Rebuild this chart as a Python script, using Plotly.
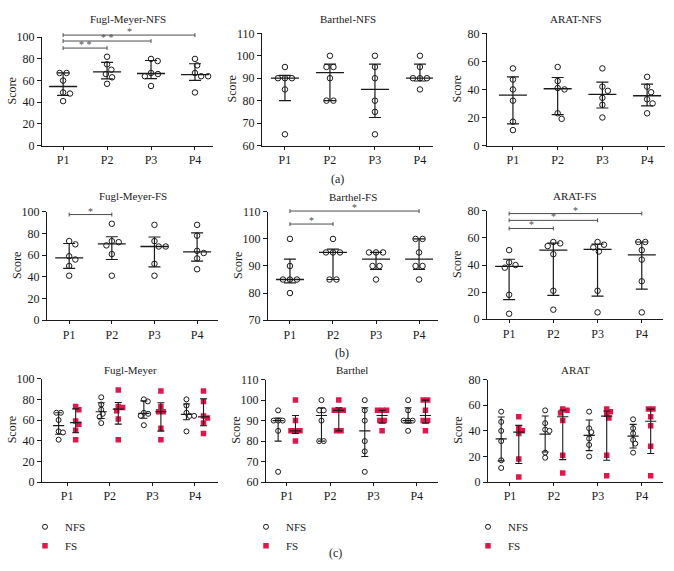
import numpy as np
import plotly.graph_objects as go

W, H = 674, 571
FONT = "Liberation Serif"
INK = "#1a1a1a"
BRK = "#4d4d4d"
RED = "#e0174b"

groups = ["P1", "P2", "P3", "P4"]

# scores of the 6 subjects per phase
fm_nfs = [[67, 67, 60, 49, 48, 41], [82, 75, 70, 66, 63, 57],
          [80, 78, 67, 66, 64, 55], [80, 74, 67, 64, 64, 49]]
ba_nfs = [[95, 90, 90, 90, 85, 65], [100, 95, 95, 90, 80, 80],
          [100, 95, 90, 80, 75, 65], [100, 95, 90, 90, 90, 85]]
ar_nfs = [[55, 47, 40, 32, 17, 11], [56, 46, 41, 40, 23, 19],
          [55, 42, 39, 34, 29, 20], [49, 42, 38, 33, 30, 23]]
fm_fs = [[73, 70, 59, 56, 50, 41], [89, 73, 72, 69, 61, 41],
         [88, 73, 68, 68, 52, 41], [88, 78, 64, 62, 57, 47]]
ba_fs = [[100, 90, 85, 85, 85, 80], [100, 95, 95, 95, 85, 85],
         [95, 95, 95, 90, 90, 85], [100, 100, 95, 90, 90, 85]]
ar_fs = [[51, 42, 40, 38, 18, 4], [57, 56, 54, 48, 21, 7],
         [57, 55, 53, 50, 21, 5], [57, 57, 51, 44, 28, 5]]

# significance brackets: (from group, to group, level, label)
sig_fm_nfs = [(0, 3, 102, "*"), (0, 2, 96.5, "* *"), (0, 1, 90, "* *")]
sig_fm_fs = [(0, 1, 97.5, "*")]
sig_ba_fs = [(0, 3, 110.3, "*"), (0, 1, 105.5, "*")]
sig_ar_fs = [(0, 3, 78, "*"), (0, 2, 73, "*"), (0, 1, 67, "*")]

# panel geometry in pixels
panels = [
    dict(x0=42, x1=213, yt=31, yb=142, yr=[0, 100], dt=20, xr=[-0.48, 3.41], title="Fugl-Meyer-NFS", ty=12),
    dict(x0=262, x1=433, yt=27, yb=142, yr=[60, 110], dt=10, xr=[-0.51, 3.29], title="Barthel-NFS", ty=12),
    dict(x0=487, x1=665, yt=27, yb=142, yr=[0, 80], dt=20, xr=[-0.58, 3.40], title="ARAT-NFS", ty=12),
    dict(x0=47, x1=218, yt=210, yb=321, yr=[0, 100], dt=20, xr=[-0.52, 3.49], title="Fugl-Meyer-FS", ty=194),
    dict(x0=268, x1=438, yt=210, yb=321, yr=[70, 110], dt=10, xr=[-0.51, 3.44], title="Barthel-FS", ty=195),
    dict(x0=487, x1=663, yt=209, yb=320, yr=[0, 80], dt=20, xr=[-0.50, 3.48], title="ARAT-FS", ty=194),
    dict(x0=42, x1=218, yt=381, yb=487, yr=[0, 100], dt=20, xr=[-0.59, 3.54], title="Fugl-Meyer", ty=372),
    dict(x0=266, x1=438, yt=382, yb=487, yr=[60, 110], dt=10, xr=[-0.48, 3.49], title="Barthel", ty=372),
    dict(x0=488, x1=663, yt=382, yb=487, yr=[0, 80], dt=20, xr=[-0.50, 3.48], title="ARAT", ty=372),
]


def swarm(vals, ppx, ppy, D):
    vals = np.asarray(vals, float)
    out = np.zeros(len(vals))
    placed = []
    for v in sorted(set(vals.tolist()), reverse=True):
        idx = np.where(vals == v)[0]
        k = len(idx)
        rel = [(i - (k - 1) / 2) * D for i in range(k)]
        y = v * ppy
        cands = {0.0}
        for (px, py) in placed:
            dy = abs(py - y)
            if dy < D:
                dx = np.sqrt(D * D - dy * dy)
                for r in rel:
                    cands.add(px + dx - r)
                    cands.add(px - dx - r)
        chosen = 0.0
        for c in sorted(cands, key=lambda c: (abs(c), -c)):
            if all((c + r - px) ** 2 + (y - py) ** 2 >= D * D - 1e-6
                   for r in rel for px, py in placed):
                chosen = c
                break
        for r, i in zip(rel, idx):
            out[i] = (chosen + r) / ppx
            placed.append((chosen + r, y))
    return out


def med_iqr(v):
    q1, m, q3 = np.percentile(np.asarray(v, float), [25, 50, 75], method="weibull")
    return m, q3 - m, m - q1


def mean_sd(v):
    a = np.asarray(v, float)
    s = a.std(ddof=1)
    return a.mean(), s, s


def axn(n):
    return ("x" if n == 1 else f"x{n}"), ("y" if n == 1 else f"y{n}")


def to_paper(P, xv, yv):
    fx = (xv - P["xr"][0]) / (P["xr"][1] - P["xr"][0])
    fy = (yv - P["yr"][0]) / (P["yr"][1] - P["yr"][0])
    px = P["x0"] + fx * (P["x1"] - P["x0"])
    py = P["yb"] - fy * (P["yb"] - P["yt"])
    return px / W, 1 - py / H


fig = go.Figure()
layout = dict(width=W, height=H, margin=dict(l=0, r=0, t=0, b=0),
              paper_bgcolor="white", plot_bgcolor="white",
              font=dict(family=FONT, size=12, color=INK), showlegend=True)
annotations = []
shapes = []

for k, P in enumerate(panels):
    n = k + 1
    xa, ya = axn(n)
    layout["xaxis" if n == 1 else f"xaxis{n}"] = dict(
        domain=[P["x0"] / W, P["x1"] / W], range=P["xr"], anchor=ya,
        tickvals=[0, 1, 2, 3], ticktext=groups, showline=True, linecolor=INK,
        linewidth=1, ticks="outside", ticklen=3, tickcolor=INK, showgrid=False,
        zeroline=False, tickfont=dict(family=FONT, size=12, color=INK), fixedrange=True)
    layout["yaxis" if n == 1 else f"yaxis{n}"] = dict(
        domain=[1 - P["yb"] / H, 1 - P["yt"] / H], range=P["yr"], anchor=xa,
        dtick=P["dt"], tick0=0, showline=True, linecolor=INK, linewidth=1,
        ticks="outside", ticklen=4, tickcolor=INK, showgrid=False, zeroline=False,
        tickfont=dict(family=FONT, size=12, color=INK), fixedrange=True)
    annotations.append(dict(xref="paper", yref="paper", x=(P["x0"] + P["x1"]) / 2 / W,
                            y=1 - P["ty"] / H, text=P["title"], showarrow=False,
                            xanchor="center", yanchor="middle", font=dict(size=11)))
    annotations.append(dict(xref="paper", yref="paper", x=(P["x0"] - 30) / W,
                            y=1 - (P["yt"] + P["yb"]) / 2 / H, text="Score", textangle=-90,
                            showarrow=False, xanchor="center", yanchor="middle",
                            font=dict(size=12)))

ppx = lambda P: (P["x1"] - P["x0"]) / (P["xr"][1] - P["xr"][0])
ppy = lambda P: (P["yb"] - P["yt"]) / (P["yr"][1] - P["yr"][0])

# rows (a) and (b)
single = [fm_nfs, ba_nfs, ar_nfs, fm_fs, ba_fs, ar_fs]
for k, data in enumerate(single):
    P = panels[k]
    xa, ya = axn(k + 1)
    xs, ys = [], []
    for g, vals in enumerate(data):
        offs = swarm(vals, ppx(P), ppy(P), 7.0)
        xs += list(g + offs)
        ys += list(vals)
    st = [med_iqr(v) for v in data]
    fig.add_trace(go.Scatter(
        x=xs, y=ys, mode="markers", xaxis=xa, yaxis=ya, showlegend=False, hoverinfo="skip",
        marker=dict(symbol="circle", size=5.5, color="white", line=dict(color=INK, width=1))))
    fig.add_trace(go.Scatter(
        x=[0, 1, 2, 3], y=[s[0] for s in st], mode="markers", xaxis=xa, yaxis=ya,
        showlegend=False, hoverinfo="skip",
        marker=dict(symbol="line-ew", size=20, color=INK, line=dict(color=INK, width=1.3)),
        error_y=dict(type="data", symmetric=False, array=[s[1] for s in st],
                     arrayminus=[s[2] for s in st], width=6, thickness=1.2, color=INK)))

# row (c)
pairs = [(fm_nfs, fm_fs, med_iqr), (ba_nfs, ba_fs, med_iqr), (ar_nfs, ar_fs, mean_sd)]
legends = ["legend", "legend2", "legend3"]
for j, (dn, df, nstat) in enumerate(pairs):
    k = 6 + j
    P = panels[k]
    xa, ya = axn(k + 1)
    for data, shift, name, mk in [(dn, -0.2, "NFS", "circle"), (df, 0.2, "FS", "square")]:
        xs, ys = [], []
        for g, vals in enumerate(data):
            offs = swarm(vals, ppx(P), ppy(P), 4.5)
            xs += list(g + shift + offs)
            ys += list(vals)
        if mk == "circle":
            marker = dict(symbol="circle", size=5, color="white", line=dict(color=INK, width=1))
        else:
            marker = dict(symbol="square", size=5.5, color=RED, line=dict(width=0))
        fig.add_trace(go.Scatter(x=xs, y=ys, mode="markers", xaxis=xa, yaxis=ya, name=name,
                                 legend=legends[j], showlegend=True, hoverinfo="skip",
                                 marker=marker))
    for data, shift, stat in [(dn, -0.2, nstat), (df, 0.2, med_iqr)]:
        st = [stat(v) for v in data]
        fig.add_trace(go.Scatter(
            x=[g + shift for g in range(4)], y=[s[0] for s in st], mode="markers",
            xaxis=xa, yaxis=ya, showlegend=False, hoverinfo="skip",
            marker=dict(symbol="line-ew", size=8, color=INK, line=dict(color=INK, width=1.2)),
            error_y=dict(type="data", symmetric=False, array=[s[1] for s in st],
                         arrayminus=[s[2] for s in st], width=3.5, thickness=1.1, color=INK)))

# significance brackets
for k, sigs in [(0, sig_fm_nfs), (3, sig_fm_fs), (4, sig_ba_fs), (5, sig_ar_fs)]:
    P = panels[k]
    for (i, jj, lev, lab) in sigs:
        xA, yA = to_paper(P, i, lev)
        xB, _ = to_paper(P, jj, lev)
        shapes.append(dict(type="line", xref="paper", yref="paper", x0=xA, x1=xB, y0=yA, y1=yA,
                           line=dict(color=BRK, width=1)))
        for xx in (xA, xB):
            shapes.append(dict(type="line", xref="paper", yref="paper", x0=xx, x1=xx,
                               y0=yA - 2 / H, y1=yA + 2 / H, line=dict(color=BRK, width=1)))
        annotations.append(dict(xref="paper", yref="paper", x=(xA + xB) / 2, y=yA, text=lab,
                                showarrow=False, xanchor="center", yanchor="bottom", yshift=-4,
                                font=dict(size=10, color=BRK)))

for lab, x, y in [("(a)", 337, 176), ("(b)", 342, 355), ("(c)", 335, 560)]:
    annotations.append(dict(xref="paper", yref="paper", x=x / W, y=1 - y / H, text=lab,
                            showarrow=False, xanchor="center", yanchor="middle",
                            font=dict(size=12)))

for j, lx in enumerate([25, 246, 468]):
    layout[legends[j]] = dict(x=lx / W, y=1 - 518 / H, xanchor="left", yanchor="top",
                              bgcolor="rgba(0,0,0,0)", borderwidth=0,
                              font=dict(family=FONT, size=11, color=INK), tracegroupgap=0)

layout["annotations"] = annotations
layout["shapes"] = shapes
fig.update_layout(**layout)
fig.write_html("out.html", config={"displayModeBar": False},
               post_script="document.body.style.margin='0px';")
